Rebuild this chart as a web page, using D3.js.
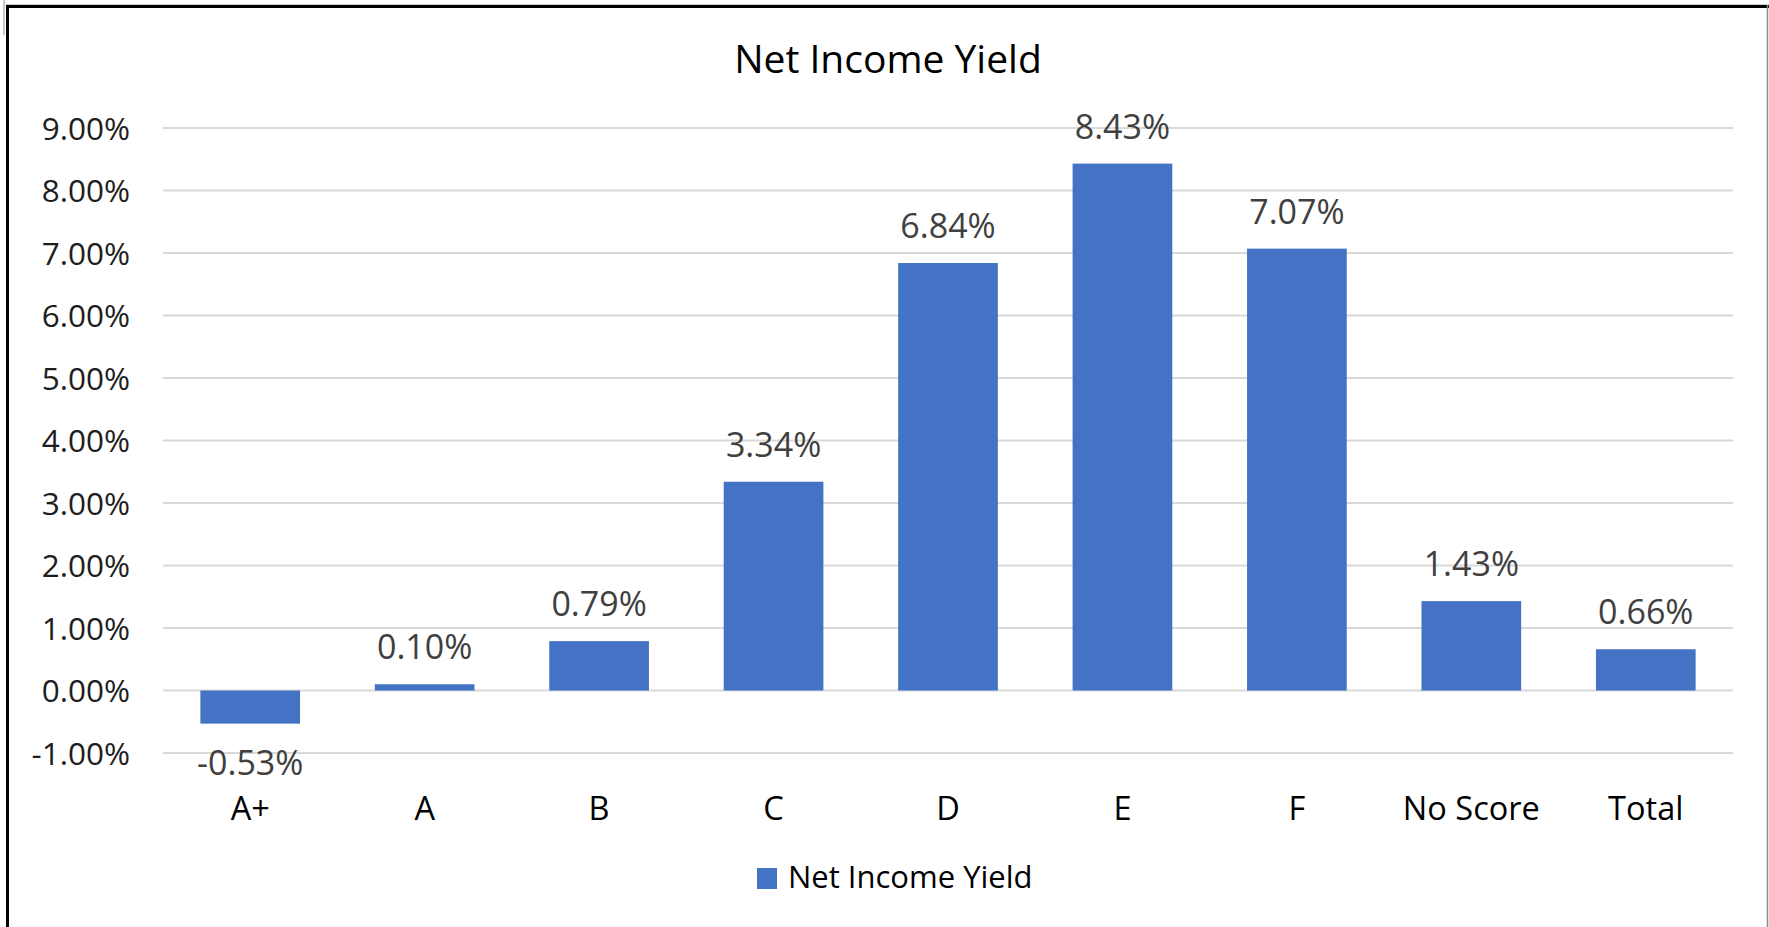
<!DOCTYPE html>
<html>
<head>
<meta charset="utf-8">
<script src="https://cdn.jsdelivr.net/npm/d3@7/dist/d3.min.js"></script>
<style>
  html, body { margin: 0; padding: 0; background: #fff; }
  svg { display: block; }
  text { font-family: "Open Sans", Lato, sans-serif; }
</style>
</head>
<body>
<svg id="chart" width="1769" height="927"></svg>
<script>
// Net income yield by score band
const categories = ["A+", "A", "B", "C", "D", "E", "F", "No Score", "Total"];
const yieldValues = [-0.53, 0.10, 0.79, 3.34, 6.84, 8.43, 7.07, 1.43, 0.66];
const yTicks = [-1, 0, 1, 2, 3, 4, 5, 6, 7, 8, 9];
const seriesName = "Net Income Yield";
const chartTitle = "Net Income Yield";

const W = 1769, H = 927;
const plot = { left: 163, right: 1733, top: 128, bottom: 753 };
const barColor = "#4472c4";
const FONT = "'Open Sans', Lato, sans-serif";

const svg = d3.select("#chart");

// frame around the chart area
svg.append("line").attr("x1", 4).attr("x2", 4).attr("y1", 0).attr("y2", 35)
  .attr("stroke", "#c8c8c8").attr("stroke-width", 2);
svg.append("line").attr("x1", 6).attr("x2", W).attr("y1", 4.5).attr("y2", 4.5)
  .attr("stroke", "#cfcfcf").attr("stroke-width", 1);
svg.append("line").attr("x1", 6).attr("x2", W).attr("y1", 6.5).attr("y2", 6.5)
  .attr("stroke", "#000").attr("stroke-width", 3);
svg.append("line").attr("x1", 7.5).attr("x2", 7.5).attr("y1", 5).attr("y2", H)
  .attr("stroke", "#000").attr("stroke-width", 3);
svg.append("line").attr("x1", 1767.5).attr("x2", 1767.5).attr("y1", 5).attr("y2", H)
  .attr("stroke", "#8a8a8a").attr("stroke-width", 1.5);

const x = d3.scaleBand()
  .domain(categories)
  .range([plot.left, plot.right])
  .paddingInner(0.75 / 1.75)
  .paddingOuter(0.375 / 1.75);

const y = d3.scaleLinear()
  .domain([-1, 9])
  .range([plot.bottom, plot.top]);

const fmt = v => v.toFixed(2) + "%";

// gridlines
svg.append("g")
  .selectAll("line")
  .data(yTicks)
  .join("line")
  .attr("x1", plot.left).attr("x2", plot.right)
  .attr("y1", d => y(d)).attr("y2", d => y(d))
  .attr("stroke", "#d9d9d9").attr("stroke-width", 2);

// y axis labels
const yAxis = d3.axisLeft(y).tickValues(yTicks).tickFormat(fmt).tickSize(0).tickPadding(0);
const gy = svg.append("g").attr("transform", "translate(130,0)").call(yAxis);
gy.select(".domain").remove();
gy.selectAll("text")
  .attr("font-size", 31.5).attr("fill", "#1e1e1e")
  .attr("font-family", FONT)
  .attr("dy", "0.36em");

// bars
svg.append("g")
  .selectAll("rect")
  .data(yieldValues)
  .join("rect")
  .attr("x", (d, i) => x(categories[i]))
  .attr("width", x.bandwidth())
  .attr("y", d => y(Math.max(0, d)))
  .attr("height", d => Math.abs(y(d) - y(0)))
  .attr("fill", barColor);

// value labels
svg.append("g")
  .selectAll("text")
  .data(yieldValues)
  .join("text")
  .attr("x", (d, i) => x(categories[i]) + x.bandwidth() / 2)
  .attr("y", d => d >= 0 ? y(d) - 25 : y(d) + 51)
  .attr("text-anchor", "middle")
  .attr("font-size", 34)
  .attr("fill", "#404040")
  .text(fmt);

// category labels
const xAxis = d3.axisBottom(x).tickSize(0).tickPadding(0);
const gx = svg.append("g").attr("transform", "translate(0,820)").call(xAxis);
gx.select(".domain").remove();
gx.selectAll("text")
  .attr("font-size", 32.5).attr("fill", "#000")
  .attr("font-family", FONT)
  .attr("dy", 0);

// title
svg.append("text")
  .attr("x", 888).attr("y", 73)
  .attr("text-anchor", "middle")
  .attr("font-size", 39).attr("fill", "#000")
  .text(chartTitle);

// legend
const lg = svg.append("g");
lg.append("rect").attr("x", 757).attr("y", 868).attr("width", 20).attr("height", 21).attr("fill", barColor);
lg.append("text").attr("x", 788).attr("y", 888)
  .attr("font-size", 31).attr("fill", "#000")
  .text(seriesName);
</script>
</body>
</html>
